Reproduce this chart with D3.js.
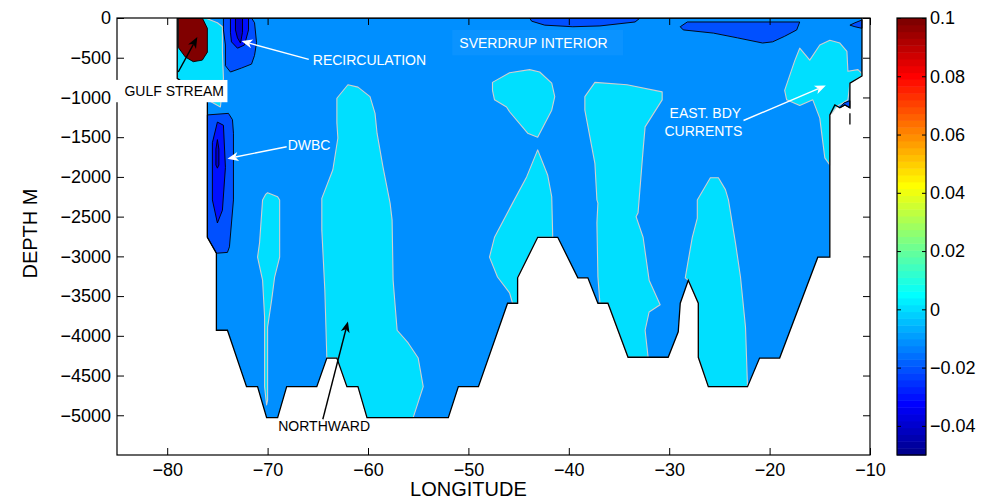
<!DOCTYPE html>
<html><head><meta charset="utf-8">
<script src="https://cdn.jsdelivr.net/npm/d3@7"></script>
<style>body{margin:0;background:#fff} text{font-family:"Liberation Sans",Arial,Helvetica,sans-serif}</style>
</head><body><svg id="c" width="985" height="500"></svg>
<script>
// ---------- data ----------
const lonTicks = [-80,-70,-60,-50,-40,-30,-20,-10];
const depthTicks = [0,-500,-1000,-1500,-2000,-2500,-3000,-3500,-4000,-4500,-5000];
const cbTicks = [0.1,0.08,0.06,0.04,0.02,0,-0.02,-0.04];
const colorRange = [-0.05, 0.1];

// section domain (velocity band -0.01..0)
const sectionOutline = [[-79.0,0],[-10.8,0],[-10.8,-730],[-12.0,-820],[-12.0,-1130],[-12.5,-1095],[-13.0,-1130],[-13.5,-1095],[-14.0,-1220],[-14.0,-3010],[-15.2,-3010],[-19.0,-4280],[-21.0,-4280],[-22.2,-4640],[-26.1,-4640],[-27.1,-4270],[-27.1,-3590],[-28.1,-3300],[-28.9,-3590],[-29.1,-3950],[-30.1,-4270],[-34.1,-4270],[-36.1,-3590],[-37.1,-3590],[-38.1,-3270],[-39.1,-3270],[-41.1,-2760],[-43.1,-2760],[-45.1,-3270],[-45.1,-3590],[-46.1,-3590],[-49.0,-4640],[-51.0,-4640],[-52.0,-5030],[-60.1,-5030],[-61.0,-4640],[-62.1,-4640],[-63.1,-4280],[-64.1,-4280],[-65.1,-4640],[-68.1,-4640],[-69.0,-5030],[-70.1,-5030],[-71.0,-4640],[-72.1,-4640],[-74.0,-3930],[-75.1,-3930],[-75.1,-2960],[-76.0,-2760],[-76.0,-1030],[-79.0,-760]];
const sectionStub = [[-12.0,-1200],[-12.0,-1340]];

// positive (0..0.01) regions
const gulfCyan = [[-79.0,0],[-76.2,0],[-75.0,-60],[-74.5,-110],[-74.5,-430],[-74.4,-760],[-74.7,-1120],[-76.0,-1030],[-79.0,-760]];
const cyan70 = [[-70.2,-2220],[-70.0,-2200],[-69.0,-2250],[-68.8,-2290],[-68.8,-3010],[-69.3,-3260],[-69.6,-3550],[-70.0,-3890],[-70.0,-4810],[-70.1,-4870],[-70.3,-4640],[-70.3,-3760],[-70.5,-3300],[-71.0,-3010],[-70.8,-2830],[-70.5,-2290]];
const cyan62 = [[-62.0,-840],[-61.0,-870],[-59.8,-990],[-59.3,-1200],[-59.1,-1450],[-58.5,-1880],[-57.8,-2330],[-57.6,-2540],[-57.5,-3300],[-57.1,-3930],[-56.0,-4090],[-55.0,-4280],[-54.5,-4640],[-55.5,-5030],[-60.1,-5030],[-61.0,-4640],[-62.1,-4640],[-63.1,-4280],[-64.1,-4280],[-64.3,-3420],[-64.6,-2670],[-64.6,-2270],[-63.5,-1910],[-63.0,-1510],[-63.1,-1320],[-63.1,-1010]];
const blob45 = [[-47.6,-810],[-45.9,-690],[-43.9,-650],[-42.9,-680],[-41.7,-820],[-41.4,-990],[-41.7,-1160],[-43.1,-1500],[-44.1,-1450],[-45.9,-1180],[-46.2,-1120],[-47.4,-1030],[-47.6,-910]];
const lower45 = [[-43.1,-1660],[-42.1,-1980],[-41.7,-2250],[-41.6,-2760],[-43.1,-2760],[-45.1,-3270],[-45.1,-3590],[-45.6,-3590],[-45.9,-3460],[-47.1,-3260],[-47.9,-3010],[-47.4,-2760],[-45.6,-2330],[-44.2,-2000]];
const colA = [[-37.4,-810],[-34.2,-840],[-30.7,-930],[-30.7,-1030],[-32.4,-1370],[-32.6,-1660],[-33.1,-2450],[-33.3,-2500],[-32.6,-2760],[-32.0,-3300],[-30.9,-3610],[-32.0,-3700],[-32.4,-3930],[-32.1,-4270],[-34.1,-4270],[-36.1,-3590],[-36.9,-3590],[-37.1,-3260],[-37.2,-2580],[-37.1,-2330],[-37.2,-2290],[-37.4,-1830],[-38.4,-1160],[-38.4,-990]];
const colB = [[-25.9,-2010],[-25.1,-2010],[-24.4,-2160],[-24.1,-2290],[-23.4,-2830],[-22.9,-3260],[-22.4,-3890],[-22.2,-4640],[-26.1,-4640],[-27.1,-4270],[-27.1,-3590],[-28.1,-3300],[-28.4,-3270],[-28.1,-3050],[-27.7,-2760],[-27.2,-2520],[-27.2,-2290]];
const eastBdy = [[-17.0,-380],[-16.0,-530],[-15.0,-340],[-14.0,-280],[-13.0,-315],[-12.3,-420],[-12.2,-670],[-11.2,-650],[-10.8,-700],[-10.8,-730],[-12.0,-820],[-12.2,-1030],[-12.7,-1070],[-13.3,-1110],[-13.8,-1200],[-14.0,-1220],[-14.0,-1850],[-14.5,-1760],[-15.0,-1260],[-15.7,-1030],[-17.0,-1100],[-18.3,-1030],[-18.5,-910],[-17.5,-540]];

// Gulf Stream core (>= 0.1)
const gulfCore = [[-78.9,0],[-76.5,0],[-76.0,-130],[-76.0,-430],[-76.5,-530],[-77.4,-550],[-78.2,-490],[-78.9,-370]];

// negative regions
const recircOuter = [[-74.4,0],[-71.6,0],[-71.3,-60],[-71.1,-310],[-71.3,-470],[-71.6,-580],[-72.6,-630],[-73.7,-680],[-74.2,-600],[-74.2,-340],[-74.4,-150]];
const recircInner = [[-73.7,0],[-71.9,0],[-71.9,-150],[-72.3,-340],[-73.0,-380],[-73.6,-300],[-73.7,-180]];
const recircCore = [[-73.2,0],[-72.5,0],[-72.5,-180],[-72.7,-315],[-73.0,-250],[-73.2,-150]];
const dwbcOuter = [[-76.0,-1220],[-73.9,-1200],[-73.5,-1280],[-73.4,-1450],[-73.4,-2290],[-73.8,-2880],[-74.0,-2950],[-75.0,-2960],[-75.1,-2960],[-76.0,-2760]];
const dwbcInner = [[-75.0,-1310],[-74.4,-1350],[-74.2,-1880],[-74.5,-2420],[-75.0,-2580],[-75.5,-2290],[-75.5,-1570]];
const dwbcCore = [[-75.0,-1530],[-74.85,-1650],[-74.85,-1850],[-75.0,-1890],[-75.15,-1850],[-75.15,-1650]];
const topBlob1 = [[-43.9,0],[-32.9,0],[-33.4,-50],[-36.9,-100],[-39.6,-110],[-42.4,-90],[-43.7,-40]];
const topBlob2 = [[-28.6,-150],[-28.9,-110],[-28.2,-50],[-17.0,-50],[-17.3,-150],[-18.5,-230],[-19.7,-300],[-20.7,-315],[-23.2,-250],[-25.6,-190]];
const topBlob3 = [[-11.5,-60],[-10.8,-25],[-10.8,-130],[-11.5,-110],[-12.0,-90]];
const eastPatch = [[-12.6,-1070],[-12.0,-1040],[-12.0,-1130],[-12.5,-1095],[-13.0,-1130]];

// fill level (lower contour level) of each region
const regionNames  = ["gulfCyan","cyan70","cyan62","blob45","lower45","colA","colB","eastBdy","gulfCore","recircOuter","recircInner","recircCore","dwbcOuter","dwbcInner","dwbcCore","topBlob1","topBlob2","topBlob3","eastPatch"];
const regionLevels = [0,0,0,0,0,0,0,0,0.1,-0.02,-0.03,-0.04,-0.02,-0.03,-0.04,-0.02,-0.02,-0.02,-0.02];
const backgroundLevel = -0.01;

// annotations
const annLabels = [
  {text:"GULF STREAM", at:[-79.3,-920], color:"#000", anchor:"middle", box:[[-85.1,-780],[-74.0,-1060]], boxFill:"#fff"},
  {text:"RECIRCULATION", at:[-65.5,-530], color:"#fff", anchor:"start"},
  {text:"SVERDRUP INTERIOR", at:[-50.9,-310], color:"#fff", anchor:"start", box:[[-51.6,-150],[-34.6,-470]], boxFill:"#0b93ff"},
  {text:"DWBC", at:[-68.0,-1600], color:"#fff", anchor:"start"},
  {text:"EAST. BDY", at:[-26.4,-1200], color:"#fff", anchor:"middle"},
  {text:"CURRENTS", at:[-26.6,-1420], color:"#fff", anchor:"middle"},
  {text:"NORTHWARD", at:[-59.8,-5140], color:"#000", anchor:"end"}
];
const annArrows = [
  {from:[-78.9,-680], to:[-77.0,-240], color:"#000"},
  {from:[-65.9,-520], to:[-72.6,-290], color:"#fff"},
  {from:[-68.1,-1620], to:[-74.0,-1770], color:"#fff"},
  {from:[-22.6,-1290], to:[-14.4,-850], color:"#fff"},
  {from:[-64.5,-5050], to:[-62.0,-3820], color:"#000"}
];

// ---------- drawing ----------
const regionData = {gulfCyan,cyan70,cyan62,blob45,lower45,colA,colB,eastBdy,gulfCore,recircOuter,recircInner,recircCore,dwbcOuter,dwbcInner,dwbcCore,topBlob1,topBlob2,topBlob3,eastPatch};

function jet64(k){ // k = 1..64, MATLAB jet(64)
  let r,g,b;
  r = k<=24?0 : k<=40?(k-24)/16 : k<=56?1 : 1-(k-56)/16;
  g = k<=8?0 : k<=24?(k-8)/16 : k<=40?1 : k<=55?1-(k-40)/16 : 0;
  b = k<=8?(k+8)/16 : k<=24?1 : k<=39?1-(k-24)/16 : 0;
  return d3.rgb(Math.round(r*255),Math.round(g*255),Math.round(b*255)).formatHex();
}
function colorOf(v){
  const t = (v-colorRange[0])/(colorRange[1]-colorRange[0]);
  let k = Math.floor(t*63+1e-9)+1;
  k = Math.max(1,Math.min(64,k));
  return jet64(k);
}

const W = {l:117,r:870,t:18,b:455};
const svg = d3.select("#c");
const x = d3.scaleLinear().domain([-85,-10]).range([W.l,W.r]);
const y = d3.scaleLinear().domain([-5500,0]).range([W.b,W.t]);
const line = d3.line().x(d=>x(d[0])).y(d=>y(d[1]));
const poly = pts => line(pts)+"Z";

svg.append("defs").append("clipPath").attr("id","pc").append("rect")
  .attr("x",W.l).attr("y",W.t).attr("width",W.r-W.l).attr("height",W.b-W.t);
const plot = svg.append("g").attr("clip-path","url(#pc)");

plot.append("path").attr("d",poly(sectionOutline)).attr("fill",colorOf(backgroundLevel)).attr("stroke","none");

regionNames.forEach((n,i)=>{
  const lv = regionLevels[i];
  plot.append("path").attr("d",poly(regionData[n]))
    .attr("fill",colorOf(lv))
    .attr("stroke", lv===0 ? "#cfcfcf" : "#000")
    .attr("stroke-width", lv===0 ? 1.1 : 0.9)
    .attr("stroke-linejoin","round");
});

plot.append("path").attr("d",poly(sectionOutline)).attr("fill","none").attr("stroke","#000").attr("stroke-width",1.3).attr("stroke-linejoin","miter");
plot.append("path").attr("d",line(sectionStub)).attr("fill","none").attr("stroke","#000").attr("stroke-width",1.3);

// axes
const TF = 18;
const fmtMinus = v => v<0 ? "\u2212"+String(Math.abs(v)) : String(v);
function styleAxis(g){
  g.select(".domain").remove();
  g.selectAll("line").attr("stroke","#000");
  g.selectAll("text").attr("font-family","'Liberation Sans',Arial,sans-serif").attr("font-size",TF).attr("fill","#000");
}
svg.append("g").attr("transform",`translate(0,${W.b})`)
  .call(d3.axisBottom(x).tickValues(lonTicks).tickSize(-7).tickPadding(8).tickFormat(fmtMinus)).call(styleAxis);
svg.append("g").attr("transform",`translate(0,${W.t})`)
  .call(d3.axisTop(x).tickValues(lonTicks).tickSize(-7).tickFormat("")).call(styleAxis);
svg.append("g").attr("transform",`translate(${W.l},0)`)
  .call(d3.axisLeft(y).tickValues(depthTicks).tickSize(-7).tickPadding(6).tickFormat(fmtMinus)).call(styleAxis);
svg.append("g").attr("transform",`translate(${W.r},0)`)
  .call(d3.axisRight(y).tickValues(depthTicks).tickSize(-7).tickFormat("")).call(styleAxis);
svg.append("rect").attr("x",W.l).attr("y",W.t).attr("width",W.r-W.l).attr("height",W.b-W.t)
  .attr("fill","none").attr("stroke","#000").attr("stroke-width",1.2);

svg.append("text").attr("x",x(-50)).attr("y",496).attr("text-anchor","middle").attr("font-size",20).text("LONGITUDE");
svg.append("text").attr("transform",`translate(37,${(W.t+W.b)/2 - 3}) rotate(-90)`).attr("text-anchor","middle").attr("font-size",20).text("DEPTH M");

// annotations (drawn over the frame, as in the original)
const ann = svg.append("g");
annLabels.forEach(a=>{
  if(a.box){
    const x0=x(a.box[0][0]), y0=y(a.box[0][1]), x1=x(a.box[1][0]), y1=y(a.box[1][1]);
    ann.append("rect").attr("x",x0).attr("y",y0).attr("width",x1-x0).attr("height",y1-y0).attr("fill",a.boxFill);
  }
  ann.append("text").attr("x",x(a.at[0])).attr("y",y(a.at[1])).attr("dy","0.36em")
    .attr("text-anchor",a.anchor).attr("fill",a.color).attr("font-size",14).text(a.text);
});
annArrows.forEach(a=>{
  const x1=x(a.from[0]), y1=y(a.from[1]), x2=x(a.to[0]), y2=y(a.to[1]);
  const dx=x2-x1, dy=y2-y1, L=Math.hypot(dx,dy), ux=dx/L, uy=dy/L, px=-uy, py=ux;
  const hl=11, hw=4.5, notch=3;
  const bx=x2-ux*hl, by=y2-uy*hl;
  ann.append("line").attr("x1",x1).attr("y1",y1).attr("x2",bx+ux*notch).attr("y2",by+uy*notch)
    .attr("stroke",a.color).attr("stroke-width",1.4);
  ann.append("path").attr("d",`M${x2},${y2}L${bx+px*hw},${by+py*hw}L${bx+ux*notch},${by+uy*notch}L${bx-px*hw},${by-py*hw}Z`)
    .attr("fill",a.color);
});

// colorbar
const CB = {x:897, w:29};
const c = d3.scaleLinear().domain(colorRange).range([W.b,W.t]);
const step = (colorRange[1]-colorRange[0])/64;
const bands = d3.range(64).map(i=>({lo:colorRange[0]+i*step, hi:colorRange[0]+(i+1)*step, k:i+1}));
svg.append("g").selectAll("rect").data(bands).join("rect")
  .attr("x",CB.x).attr("width",CB.w)
  .attr("y",d=>c(d.hi)).attr("height",d=>c(d.lo)-c(d.hi)+0.5)
  .attr("fill",d=>jet64(d.k));
svg.append("rect").attr("x",CB.x).attr("y",W.t).attr("width",CB.w).attr("height",W.b-W.t)
  .attr("fill","none").attr("stroke","#000").attr("stroke-width",1.2);
svg.append("g").attr("transform",`translate(${CB.x},0)`)
  .call(d3.axisLeft(c).tickValues(cbTicks).tickSize(-4).tickFormat("")).call(styleAxis);
svg.append("g").attr("transform",`translate(${CB.x+CB.w},0)`)
  .call(d3.axisRight(c).tickValues(cbTicks).tickSize(-4).tickPadding(4).tickFormat(v=>v===0?"0":fmtMinus(+v.toFixed(2)))).call(styleAxis);
</script></body></html>
